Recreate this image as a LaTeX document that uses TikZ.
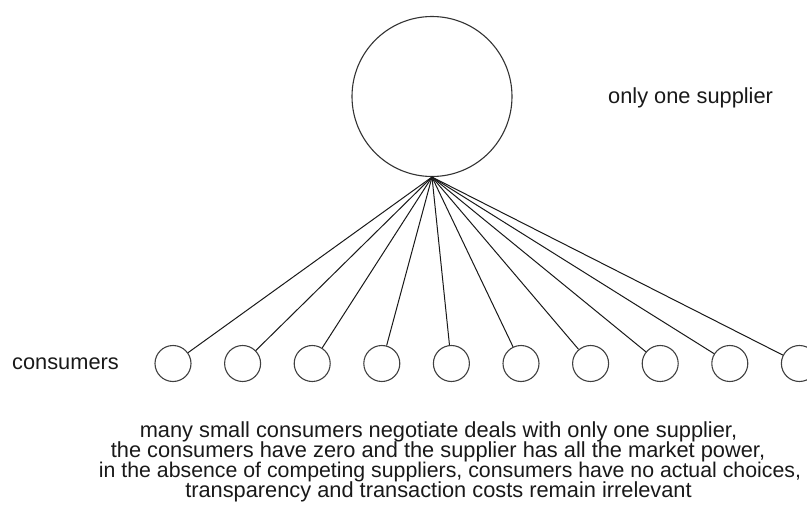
\documentclass[tikz,border=0pt]{standalone}
\usepackage{fontspec}
\setmainfont{Liberation Sans}
\begin{document}
\begin{tikzpicture}[x=1pt,y=-1pt,
  supplier/.style={draw=black!80, line width=1.1pt, circle, minimum size=160pt, inner sep=0pt},
  consumer/.style={draw=black!75, line width=1.1pt, circle, minimum size=36pt, inner sep=0pt},
  link/.style={draw=black!90, line width=1pt},
  lbl/.style={inner sep=0pt, text=black!90, font=\fontsize{21.8}{20}\selectfont}]
\useasboundingbox (0,0) rectangle (807,506);
\clip (0,0) rectangle (807,506);
\node[supplier] (sup) at (432,96.5) {};
\foreach \i in {0,...,9}
  \node[consumer] (c\i) at ({173+69.6*\i},363.5) {};
\foreach \i in {0,...,9}
  \draw[link] (sup.south) -- (c\i);
\node[lbl, anchor=base west] (supl) at (608,103.3) {only one supplier};
\node[lbl, anchor=base west] (conl) at (12,369) {consumers};
\node[lbl, anchor=base] (t1) at (438.5,437) {many small consumers negotiate deals with only one supplier,};
\node[lbl, anchor=base] (t2) at (438,457) {the consumers have zero and the supplier has all the market power,};
\node[lbl, anchor=base, font=\fontsize{21.3}{20}\selectfont] (t3) at (450,477) {in the absence of competing suppliers, consumers have no actual choices,};
\node[lbl, anchor=base] (t4) at (438.5,497) {transparency and transaction costs remain irrelevant};
\end{tikzpicture}
\end{document}
